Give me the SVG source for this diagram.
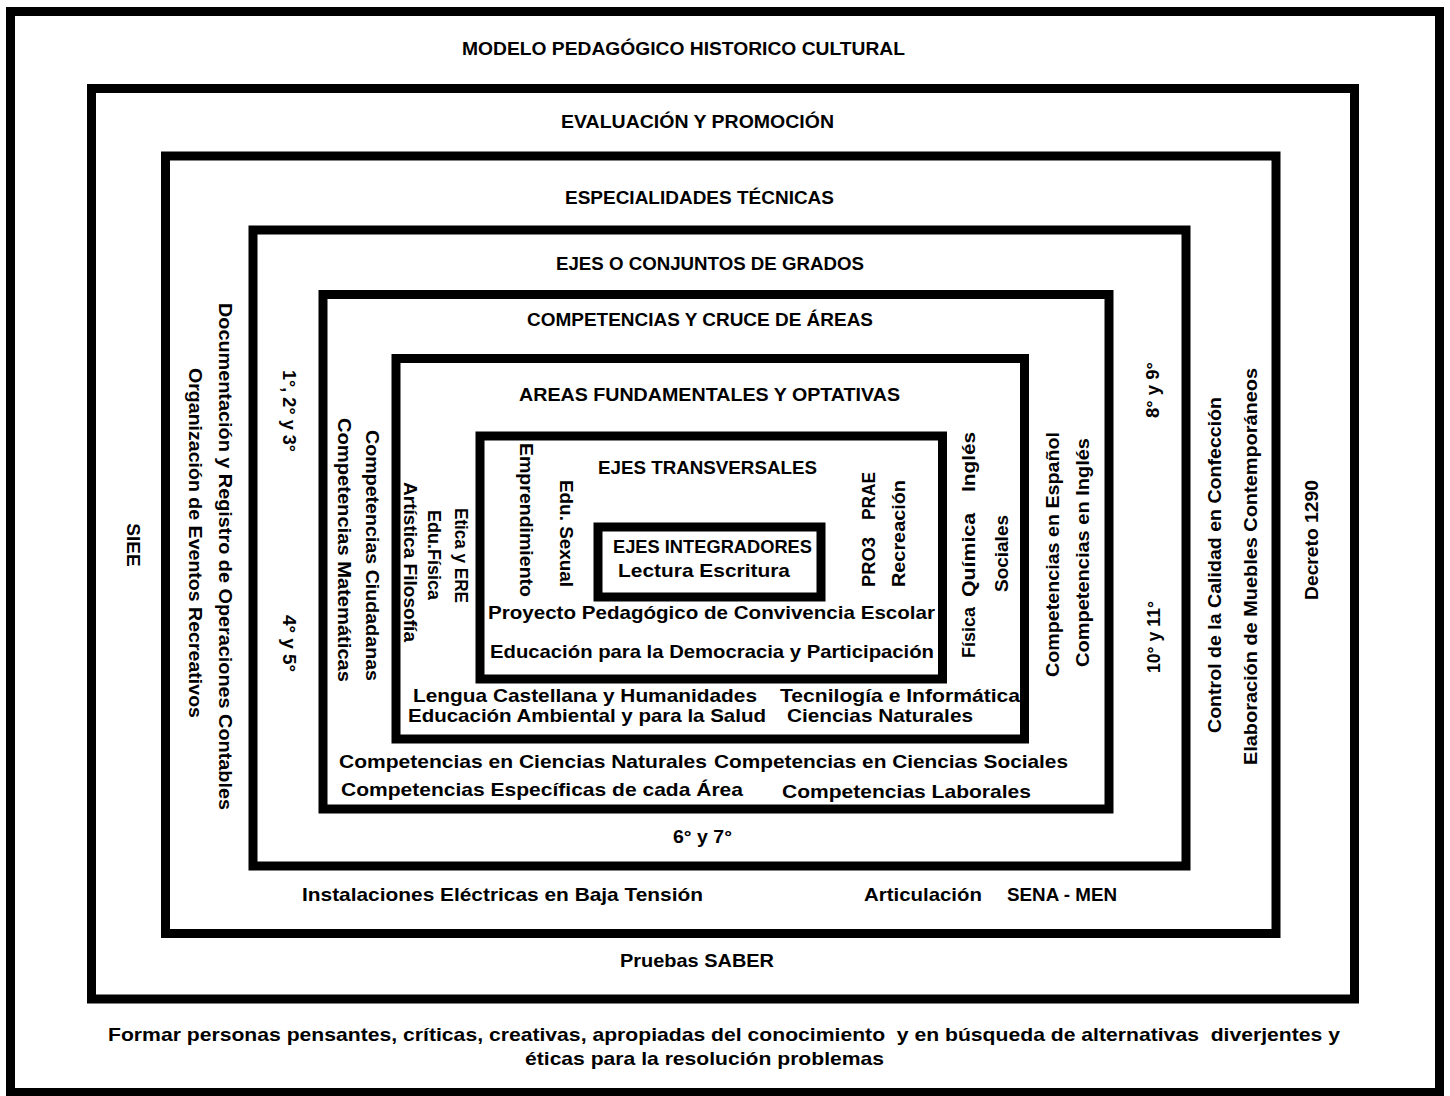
<svg xmlns="http://www.w3.org/2000/svg" width="1450" height="1096" viewBox="0 0 1450 1096">
<style>
.box{fill:none;stroke:#000;stroke-width:9}
.t{font-family:"Liberation Sans",Arial,sans-serif;font-weight:bold;font-size:19px;fill:#000}
</style>
<rect x="0" y="0" width="1450" height="1096" fill="#fff"/>
<g id="connectors"></g>
<g id="modelo">
<rect class="box" x="10.5" y="11.5" width="1429" height="1081"/>
<text class="t" x="462" y="55" textLength="443" lengthAdjust="spacingAndGlyphs">MODELO PEDAGÓGICO HISTORICO CULTURAL</text>
<text class="t" x="108" y="1041" textLength="1232" lengthAdjust="spacingAndGlyphs" xml:space="preserve">Formar personas pensantes, críticas, creativas, apropiadas del conocimiento  y en búsqueda de alternativas  diverjentes y</text>
<text class="t" x="525" y="1065" textLength="359" lengthAdjust="spacingAndGlyphs">éticas para la resolución problemas</text>
</g>
<g id="evaluacion">
<rect class="box" x="91.5" y="88.5" width="1263" height="910.5"/>
<text class="t" x="561" y="128" textLength="273" lengthAdjust="spacingAndGlyphs">EVALUACIÓN Y PROMOCIÓN</text>
<text class="t" x="620" y="967" textLength="154" lengthAdjust="spacingAndGlyphs">Pruebas SABER</text>
<text class="t" transform="translate(127,545) rotate(90)" text-anchor="middle">SIEE</text>
<text class="t" transform="translate(1318,600) rotate(-90)" textLength="120" lengthAdjust="spacingAndGlyphs">Decreto 1290</text>
</g>
<g id="especialidades">
<rect class="box" x="165.5" y="156" width="1110.5" height="777.5"/>
<text class="t" x="565" y="204" textLength="269" lengthAdjust="spacingAndGlyphs">ESPECIALIDADES TÉCNICAS</text>
<text class="t" x="302" y="901" textLength="401" lengthAdjust="spacingAndGlyphs">Instalaciones Eléctricas en Baja Tensión</text>
<text class="t" x="864" y="901" textLength="118" lengthAdjust="spacingAndGlyphs">Articulación</text>
<text class="t" x="1007" y="901" textLength="110" lengthAdjust="spacingAndGlyphs">SENA - MEN</text>
<text class="t" transform="translate(219,303) rotate(90)" textLength="507" lengthAdjust="spacingAndGlyphs">Documentación y Registro de Operaciones Contables</text>
<text class="t" transform="translate(189,368) rotate(90)" textLength="350" lengthAdjust="spacingAndGlyphs">Organización de Eventos Recreativos</text>
<text class="t" transform="translate(1221,733) rotate(-90)" textLength="336" lengthAdjust="spacingAndGlyphs">Control de la Calidad en Confección</text>
<text class="t" transform="translate(1257,765) rotate(-90)" textLength="397" lengthAdjust="spacingAndGlyphs">Elaboración de Muebles Contemporáneos</text>
</g>
<g id="ejes-grados">
<rect class="box" x="253" y="230" width="933" height="636"/>
<text class="t" x="556" y="270" textLength="308" lengthAdjust="spacingAndGlyphs">EJES O CONJUNTOS DE GRADOS</text>
<text class="t" x="673" y="843" textLength="59" lengthAdjust="spacingAndGlyphs">6° y 7°</text>
<text class="t" transform="translate(283,370) rotate(90)" textLength="82" lengthAdjust="spacingAndGlyphs">1°, 2° y 3°</text>
<text class="t" transform="translate(283,615) rotate(90)" textLength="57" lengthAdjust="spacingAndGlyphs">4° y 5°</text>
<text class="t" transform="translate(1159,418) rotate(-90)" textLength="56" lengthAdjust="spacingAndGlyphs">8° y 9°</text>
<text class="t" transform="translate(1160,673) rotate(-90)" textLength="72" lengthAdjust="spacingAndGlyphs">10° y 11°</text>
</g>
<g id="competencias">
<rect class="box" x="323" y="294.5" width="786" height="514.5"/>
<text class="t" x="527" y="326" textLength="346" lengthAdjust="spacingAndGlyphs">COMPETENCIAS Y CRUCE DE ÁREAS</text>
<text class="t" x="339" y="768" textLength="368" lengthAdjust="spacingAndGlyphs">Competencias en Ciencias Naturales</text>
<text class="t" x="714" y="768" textLength="354" lengthAdjust="spacingAndGlyphs">Competencias en Ciencias Sociales</text>
<text class="t" x="341" y="796" textLength="402" lengthAdjust="spacingAndGlyphs">Competencias Específicas de cada Área</text>
<text class="t" x="782" y="798" textLength="249" lengthAdjust="spacingAndGlyphs">Competencias Laborales</text>
<text class="t" transform="translate(366,430) rotate(90)" textLength="251" lengthAdjust="spacingAndGlyphs">Competencias Ciudadanas</text>
<text class="t" transform="translate(338,418) rotate(90)" textLength="264" lengthAdjust="spacingAndGlyphs">Competencias Matemáticas</text>
<text class="t" transform="translate(1059,677) rotate(-90)" textLength="245" lengthAdjust="spacingAndGlyphs">Competencias en Español</text>
<text class="t" transform="translate(1089,667) rotate(-90)" textLength="229" lengthAdjust="spacingAndGlyphs">Competencias en Inglés</text>
</g>
<g id="areas">
<rect class="box" x="396" y="358.5" width="628.5" height="380.5"/>
<text class="t" x="519" y="401" textLength="381" lengthAdjust="spacingAndGlyphs">AREAS FUNDAMENTALES Y OPTATIVAS</text>
<text class="t" x="413" y="702" textLength="344" lengthAdjust="spacingAndGlyphs">Lengua Castellana y Humanidades</text>
<text class="t" x="780" y="702" textLength="240" lengthAdjust="spacingAndGlyphs">Tecnilogía e Informática</text>
<text class="t" x="408" y="722" textLength="358" lengthAdjust="spacingAndGlyphs">Educación Ambiental y para la Salud</text>
<text class="t" x="787" y="722" textLength="186" lengthAdjust="spacingAndGlyphs">Ciencias Naturales</text>
<text class="t" transform="translate(455,508) rotate(90)" textLength="95" lengthAdjust="spacingAndGlyphs">Etica y ERE</text>
<text class="t" transform="translate(428,510) rotate(90)" textLength="90" lengthAdjust="spacingAndGlyphs">Edu.Física</text>
<text class="t" transform="translate(404,482) rotate(90)" textLength="160" lengthAdjust="spacingAndGlyphs">Artística Filosofía</text>
<text class="t" transform="translate(975,658) rotate(-90)" textLength="51" lengthAdjust="spacingAndGlyphs">Física</text>
<text class="t" transform="translate(975,597) rotate(-90)" textLength="84" lengthAdjust="spacingAndGlyphs">Química</text>
<text class="t" transform="translate(975,492) rotate(-90)" textLength="60" lengthAdjust="spacingAndGlyphs">Inglés</text>
<text class="t" transform="translate(1008,592) rotate(-90)" textLength="77" lengthAdjust="spacingAndGlyphs">Sociales</text>
</g>
<g id="ejes-transversales">
<rect class="box" x="480" y="436" width="462.5" height="243"/>
<text class="t" x="598" y="474" textLength="219" lengthAdjust="spacingAndGlyphs">EJES TRANSVERSALES</text>
<text class="t" x="488" y="619" textLength="447" lengthAdjust="spacingAndGlyphs">Proyecto Pedagógico de Convivencia Escolar</text>
<text class="t" x="490" y="658" textLength="444" lengthAdjust="spacingAndGlyphs">Educación para la Democracia y Participación</text>
<text class="t" transform="translate(520,443) rotate(90)" textLength="154" lengthAdjust="spacingAndGlyphs">Emprendimiento</text>
<text class="t" transform="translate(560,480) rotate(90)" textLength="107" lengthAdjust="spacingAndGlyphs">Edu. Sexual</text>
<text class="t" transform="translate(875,587) rotate(-90)" textLength="50" lengthAdjust="spacingAndGlyphs">PRO3</text>
<text class="t" transform="translate(875,520) rotate(-90)" textLength="48" lengthAdjust="spacingAndGlyphs">PRAE</text>
<text class="t" transform="translate(905,587) rotate(-90)" textLength="107" lengthAdjust="spacingAndGlyphs">Recreación</text>
</g>
<g id="ejes-integradores">
<rect class="box" x="598" y="527" width="223" height="70"/>
<text class="t" x="613" y="553" textLength="199" lengthAdjust="spacingAndGlyphs">EJES INTEGRADORES</text>
<text class="t" x="618" y="577" textLength="172" lengthAdjust="spacingAndGlyphs">Lectura Escritura</text>
</g>
</svg>
